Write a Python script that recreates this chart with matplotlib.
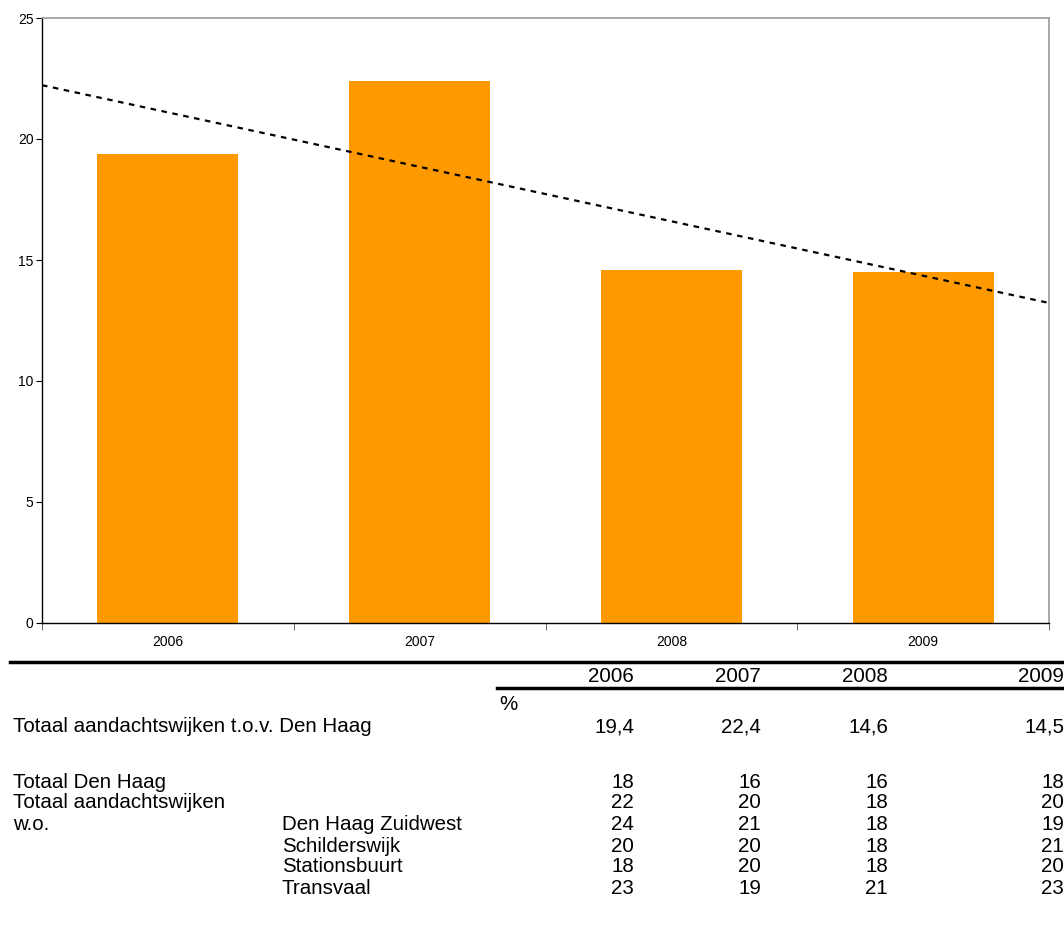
import matplotlib.pyplot as plt
from matplotlib.lines import Line2D
import numpy as np

plt.rcParams['font.family'] = ['Liberation Sans', 'DejaVu Sans']

years = ['2006', '2007', '2008', '2009']
share = [19.4, 22.4, 14.6, 14.5]
share_labels = ['19,4', '22,4', '14,6', '14,5']

row_labels = ['Totaal Den Haag', 'Totaal aandachtswijken', 'w.o.', '', '', '']
sub_labels = ['', '', 'Den Haag Zuidwest', 'Schilderswijk', 'Stationsbuurt', 'Transvaal']
row_values = [
    [18, 16, 16, 18],
    [22, 20, 18, 20],
    [24, 21, 18, 19],
    [20, 20, 18, 21],
    [18, 20, 18, 20],
    [23, 19, 21, 23],
]

W, H = 1064, 944
fig = plt.figure(figsize=(W / 100, H / 100), dpi=100)
ax = fig.add_axes([42 / W, 1 - 623 / H, (1049 - 42) / W, (623 - 18) / H])

x = np.arange(len(years))
ax.bar(x, share, width=0.56, color='#FF9900', zorder=2)

# linear trend line over the bars
k, b = np.polyfit(x, share, 1)
xt = np.array([-0.5, len(years) - 0.5])
ax.plot(xt, k * xt + b, color='black', linestyle=(0, (2.5, 2.5)), linewidth=1.6, zorder=3)

ax.set_xlim(-0.5, len(years) - 0.5)
ax.set_ylim(0, 25)
ax.set_yticks([0, 5, 10, 15, 20, 25])
ax.tick_params(axis='y', labelsize=10, length=4, direction='out', color='black', pad=2)
ax.set_xticks(x)
ax.set_xticklabels(years)
ax.set_xticks(np.arange(-0.5, len(years)), minor=True)
ax.tick_params(axis='x', which='major', length=0, labelsize=10, pad=9)
ax.tick_params(axis='x', which='minor', length=5, direction='out', color='#555555')
for s in ['top', 'right']:
    ax.spines[s].set_color('#999999')
    ax.spines[s].set_linewidth(1.2)
for s in ['left', 'bottom']:
    ax.spines[s].set_color('black')
    ax.spines[s].set_linewidth(1.0)

# table below the chart
def fy(py):
    return 1 - py / H

def fx(px):
    return px / W

fig.add_artist(Line2D([fx(10), fx(1064)], [fy(662), fy(662)], color='black', linewidth=2.5))
fig.add_artist(Line2D([fx(497), fx(1064)], [fy(688), fy(688)], color='black', linewidth=2.5))

col_right = [634, 761, 888, 1064]
fs = 14.8
for cx, yr in zip(col_right, years):
    fig.text(fx(cx), fy(676), yr, ha='right', va='center', fontsize=fs)
fig.text(fx(499), fy(704), '%', ha='left', va='center', fontsize=fs)

fig.text(fx(13), fy(727), 'Totaal aandachtswijken t.o.v. Den Haag', ha='left', va='center', fontsize=fs)
for cx, v in zip(col_right, share_labels):
    fig.text(fx(cx), fy(727), v, ha='right', va='center', fontsize=fs)

row_y = [782, 803, 824, 846, 867, 888]
for py, lab, sub, vals in zip(row_y, row_labels, sub_labels, row_values):
    if lab:
        fig.text(fx(13), fy(py), lab, ha='left', va='center', fontsize=fs)
    if sub:
        fig.text(fx(282), fy(py), sub, ha='left', va='center', fontsize=fs)
    for cx, v in zip(col_right, vals):
        fig.text(fx(cx), fy(py), str(v), ha='right', va='center', fontsize=fs)

fig.savefig('out.png', dpi=100)
